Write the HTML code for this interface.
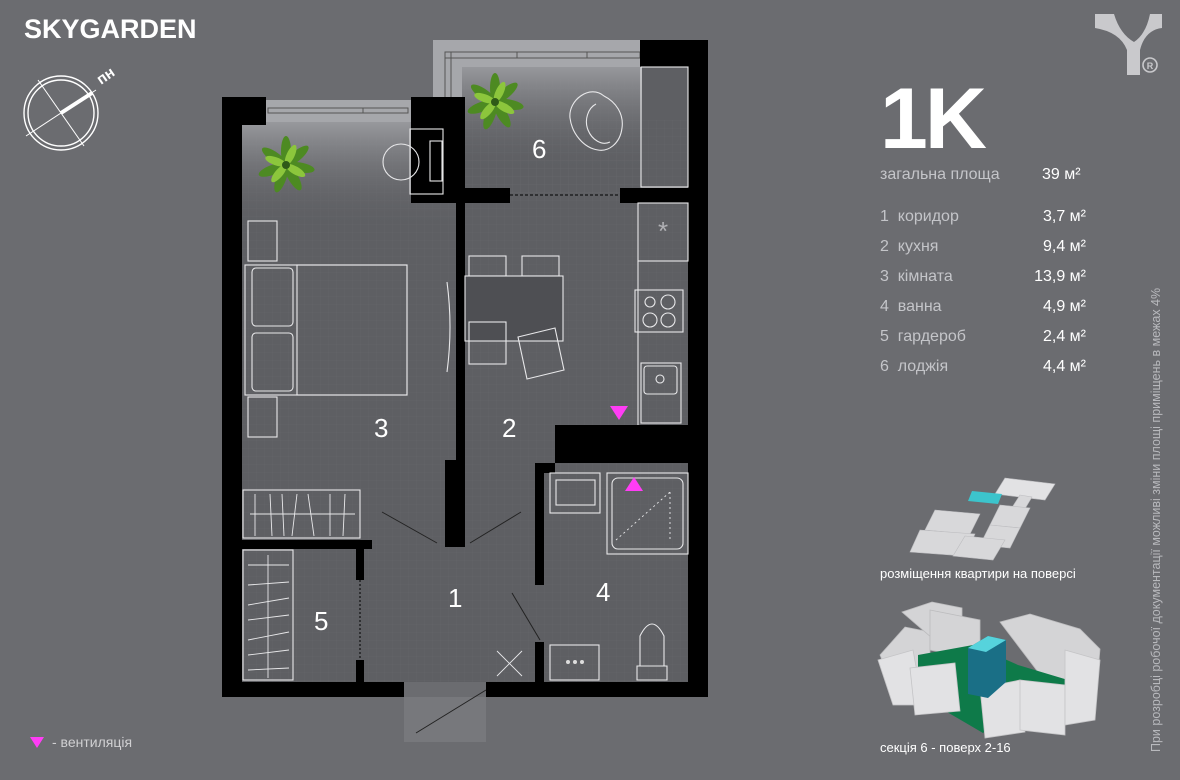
<!DOCTYPE html>
<html><head><meta charset="utf-8"><style>
html,body{margin:0;padding:0;background:#6b6c70;}
body{width:1180px;height:780px;overflow:hidden;position:relative;font-family:"Liberation Sans","DejaVu Sans",sans-serif;}
.t{position:absolute;color:#fff;white-space:nowrap;}
.lab{color:#c4c5c9;}
</style></head><body>
<svg width="1180" height="780" style="position:absolute;left:0;top:0">
<defs>
<pattern id="grid" width="8" height="8" patternUnits="userSpaceOnUse"><path d="M8 0H0V8" fill="none" stroke="#66676b" stroke-width="0.5"/></pattern>
<linearGradient id="win" x1="0" y1="0" x2="0" y2="1"><stop offset="0" stop-color="#9c9da1"/><stop offset="1" stop-color="#5f6064" stop-opacity="0"/></linearGradient>
<g id="palm">
<g fill="#4d8a22">
<ellipse cx="0" cy="-14" rx="5" ry="15"/><ellipse cx="0" cy="-14" rx="5" ry="15" transform="rotate(50)"/><ellipse cx="0" cy="-14" rx="5" ry="15" transform="rotate(100)"/><ellipse cx="0" cy="-14" rx="5" ry="15" transform="rotate(150)"/><ellipse cx="0" cy="-14" rx="5" ry="15" transform="rotate(200)"/><ellipse cx="0" cy="-14" rx="5" ry="15" transform="rotate(250)"/><ellipse cx="0" cy="-14" rx="5" ry="15" transform="rotate(305)"/>
</g>
<g fill="#8cc63c"><ellipse cx="0" cy="-11" rx="4" ry="11" transform="rotate(25)"/><ellipse cx="0" cy="-11" rx="4" ry="11" transform="rotate(120)"/><ellipse cx="0" cy="-11" rx="4" ry="11" transform="rotate(220)"/><ellipse cx="0" cy="-11" rx="4" ry="11" transform="rotate(290)"/></g>
<circle r="4" fill="#2f5a18"/>
</g>
</defs>
<!-- floor -->
<rect x="242" y="120" width="216" height="562" fill="#5e5f63"/>
<rect x="458" y="60" width="230" height="622" fill="#5e5f63"/>
<rect x="242" y="120" width="446" height="562" fill="url(#grid)"/>
<rect x="462" y="60" width="180" height="140" fill="url(#grid)"/>
<rect x="242" y="118" width="216" height="110" fill="url(#win)"/>
<rect x="462" y="62" width="180" height="110" fill="url(#win)"/>
<rect x="404" y="697" width="82" height="45" fill="#77787c"/>
<path d="M433 40H640V67H462V200H433Z" fill="#a6a7ab"/>
<rect x="266" y="100" width="146" height="22" fill="#a6a7ab"/>
<g stroke="#555" fill="none" stroke-width="1">
<rect x="445" y="52" width="195" height="6"/><rect x="445" y="52" width="6" height="140"/>
<rect x="268" y="108" width="140" height="5"/>
<line x1="517" y1="52" x2="517" y2="58"/><line x1="587" y1="52" x2="587" y2="58"/><line x1="363" y1="108" x2="363" y2="113"/>
</g>
<g fill="#000">
<rect x="222" y="97" width="44" height="28"/>
<rect x="222" y="97" width="20" height="600"/>
<rect x="411" y="97" width="51" height="106"/>
<rect x="456" y="97" width="9" height="365"/>
<rect x="445" y="460" width="20" height="87"/>
<rect x="640" y="40" width="68" height="27"/>
<rect x="688" y="40" width="20" height="657"/>
<rect x="458" y="188" width="52" height="15"/>
<rect x="620" y="188" width="88" height="15"/>
<rect x="555" y="425" width="153" height="38"/>
<rect x="535" y="463" width="20" height="10"/>
<rect x="535" y="463" width="9" height="122"/>
<rect x="535" y="642" width="9" height="50"/>
<rect x="222" y="682" width="182" height="15"/>
<rect x="486" y="682" width="222" height="15"/>
<rect x="242" y="540" width="130" height="9"/>
<rect x="356" y="548" width="8" height="32"/>
<rect x="356" y="660" width="8" height="25"/>
</g>
<line x1="510" y1="195" x2="620" y2="195" stroke="#000" stroke-dasharray="3 2"/>
<line x1="360" y1="580" x2="360" y2="660" stroke="#000" stroke-dasharray="2 2"/>
<g stroke="#222" stroke-width="1">
<line x1="382" y1="512" x2="437" y2="543"/><line x1="470" y1="543" x2="521" y2="512"/>
<line x1="512" y1="593" x2="540" y2="640"/><line x1="416" y1="733" x2="486" y2="690"/>
</g>
<g stroke="#e8e8ea" stroke-width="1.1" fill="none">
<rect x="641" y="67" width="47" height="120"/>
<path d="M604 96c-14-12-36 4-34 22 2 16 14 30 28 32 10 2 22-6 24-22 2-14-6-26-18-32z"/>
<path d="M596 104c-8 4-12 16-8 26 4 10 14 16 22 12"/>
<circle cx="401" cy="162" r="18"/>
<rect x="410" y="129" width="33" height="65"/><rect x="430" y="141" width="12" height="40"/>
<rect x="248" y="221" width="29" height="40"/><rect x="248" y="397" width="29" height="40"/>
<rect x="245" y="265" width="162" height="130"/><rect x="297" y="265" width="110" height="130"/>
<rect x="252" y="268" width="41" height="58" rx="4"/><rect x="252" y="333" width="41" height="58" rx="4"/>
<path d="M447 282q6 45 0 90"/>
<rect x="469" y="256" width="37" height="20"/><rect x="522" y="256" width="37" height="20"/>
<rect x="465" y="276" width="98" height="65" fill="#4e4f53"/>
<rect x="469" y="322" width="37" height="42"/>
<path d="M518 337l37-9 9 42-37 9z"/>
<rect x="638" y="203" width="50" height="58"/>
<text x="663" y="240" fill="#b0b0b4" stroke="none" font-size="26" text-anchor="middle">*</text>
<rect x="635" y="290" width="48" height="42"/>
<circle cx="650" cy="302" r="5"/><circle cx="668" cy="302" r="7"/><circle cx="650" cy="320" r="7"/><circle cx="668" cy="320" r="7"/>
<rect x="641" y="363" width="40" height="60"/><rect x="644" y="366" width="33" height="28" rx="3"/><circle cx="660" cy="379" r="4"/>
<line x1="638" y1="261" x2="638" y2="425"/>
<rect x="243" y="490" width="117" height="48"/>
<rect x="243" y="550" width="50" height="130"/>
<rect x="550" y="473" width="50" height="40"/><rect x="556" y="480" width="39" height="25"/>
<rect x="607" y="473" width="81" height="81"/><rect x="612" y="478" width="71" height="71" rx="6"/>
<rect x="550" y="645" width="49" height="35"/>
<path d="M637 680h30v-14h-30z M640 666v-30q12-24 24 0v30"/>
</g>
<g stroke="#e8e8ea" stroke-width="0.9">
<line x1="250" y1="514" x2="355" y2="514"/>
<line x1="255" y1="494" x2="255" y2="536"/><line x1="270" y1="494" x2="272" y2="536"/><line x1="282" y1="494" x2="284" y2="536"/><line x1="297" y1="494" x2="292" y2="536"/><line x1="308" y1="494" x2="314" y2="536"/><line x1="330" y1="494" x2="330" y2="536"/><line x1="345" y1="494" x2="343" y2="536"/>
<line x1="268" y1="555" x2="268" y2="678"/>
<line x1="248" y1="565" x2="289" y2="565"/><line x1="248" y1="585" x2="289" y2="582"/><line x1="248" y1="605" x2="289" y2="598"/><line x1="248" y1="620" x2="289" y2="615"/><line x1="248" y1="640" x2="289" y2="632"/><line x1="248" y1="655" x2="289" y2="650"/><line x1="248" y1="670" x2="289" y2="668"/>
<line x1="497" y1="651" x2="522" y2="676"/><line x1="522" y1="651" x2="497" y2="676"/>
<line x1="616" y1="540" x2="670" y2="492" stroke-dasharray="2 3"/><line x1="670" y1="492" x2="670" y2="540" stroke-dasharray="2 3"/>
</g>
<g fill="#ddd"><circle cx="568" cy="662" r="2"/><circle cx="575" cy="662" r="2"/><circle cx="582" cy="662" r="2"/></g>
<use href="#palm" x="286" y="165"/>
<use href="#palm" x="495" y="102"/>
<path d="M610 406h18l-9 14z" fill="#ff3df5"/><path d="M625 491h18l-9-14z" fill="#ff3df5"/>
<path d="M30 737h14l-7 11z" fill="#ff3df5"/>
<g stroke="#fff" fill="none" stroke-width="1.4"><circle cx="61" cy="113" r="37"/><circle cx="61" cy="113" r="33"/>
<line x1="38" y1="80" x2="84" y2="146" stroke-width="1"/><line x1="26" y1="136" x2="96" y2="90" stroke-width="1"/>
<line x1="61" y1="113" x2="92" y2="93" stroke-width="4"/></g>
<text x="101" y="85" fill="#fff" font-size="15" font-weight="bold" transform="rotate(-35 101 85)">пн</text>
<path d="M1095 14H1114Q1120 34 1134 42Q1146 34 1150 14H1162V28Q1145 30 1140 50V75H1127V50Q1120 32 1095 28Z" fill="#c9c9cc"/>
<circle cx="1150" cy="65" r="7" fill="none" stroke="#c9c9cc" stroke-width="1.6"/>
<text x="1150" y="69" fill="#c9c9cc" font-size="9" font-weight="bold" text-anchor="middle">R</text>
<!-- small plan -->
<g fill="#d8d8da" stroke="#bdbdc0" stroke-width="0.6">
<path d="M1005 478l50 6-10 16-50-6z" fill="#e2e2e4"/>
<path d="M1020 495l12 2-30 50-14-2z"/>
<path d="M1000 505l30 3-10 20-30-3z"/>
<path d="M990 525l30 3-10 20-30-3z"/>
<path d="M935 510l45 4-10 20-45-4z"/><path d="M920 530l55 4-10 22-55-4z"/><path d="M965 536l40 4-12 20-40-4z"/>
</g>
<path d="M972 491l30 3-4 10-30-3z" fill="#3cc4cc"/>
<!-- building -->
<g fill="#d4d4d6" stroke="#bcbcbe" stroke-width="0.8">
<path d="M880 655l25-28 25 5 0 40-30 30z"/>
<path d="M902 612l30-10 30 6 0 30-30 0z"/>
<path d="M930 610l50 10 0 40-50-10z"/>
<path d="M1000 622l30-8 50 15 20 20-5 60-25 5z"/>
</g>
<path d="M918 655l55-10 45 20 60 18 -10 42-55-20-30 28-65-38z" fill="#0e7a49"/>
<g fill="#e2e2e4" stroke="#c4c4c6" stroke-width="0.8">
<path d="M878 660l35-10 10 55-30 0z"/>
<path d="M910 668l45-5 5 48-45 4z"/><path d="M980 688l40-8 5 52-40 6z"/><path d="M1020 680l45 5 0 50-45-5z"/>
<path d="M1065 650l35 10-5 60-30 5z"/>
</g>
<path d="M968 648l20-12 18 4v42l-18 16-20-4z" fill="#1a6f86"/><path d="M968 648l20-12 18 4-20 12z" fill="#56d3dc"/>
</svg>
<div class="t" style="left:24px;top:14px;font-size:27px;font-weight:bold;">SKYGARDEN</div>
<div class="t" style="left:880px;top:70px;font-size:86px;font-weight:bold;letter-spacing:-3px;">1K</div>
<div class="t lab" style="left:880px;top:166px;font-size:16px;">загальна площа</div>
<div class="t" style="left:1042px;top:166px;font-size:16px;">39 м²</div>
<div style="position:absolute;left:880px;top:202px;font-size:16px;line-height:30px;color:#c4c5c9;">
<div>1&nbsp;&nbsp;коридор</div><div>2&nbsp;&nbsp;кухня</div><div>3&nbsp;&nbsp;кімната</div><div>4&nbsp;&nbsp;ванна</div><div>5&nbsp;&nbsp;гардероб</div><div>6&nbsp;&nbsp;лоджія</div></div>
<div style="position:absolute;right:94px;top:202px;font-size:16px;line-height:30px;color:#fff;text-align:right;">
<div>3,7 м²</div><div>9,4 м²</div><div>13,9 м²</div><div>4,9 м²</div><div>2,4 м²</div><div>4,4 м²</div></div>
<div class="t" style="left:880px;top:566px;font-size:13px;">розміщення квартири на поверсі</div>
<div class="t" style="left:880px;top:740px;font-size:13px;">секція 6 - поверх 2-16</div>
<div class="t" style="left:52px;top:734px;font-size:14px;color:#d0d0d2;">- вентиляція</div>
<div class="t" style="left:1149px;top:752px;font-size:12.5px;color:#b8b9bd;transform:rotate(-90deg);transform-origin:0 0;">При розробці робочої документації можливі зміни площі приміщень в межах 4%</div>
<div class="t" style="font-size:26px;left:532px;top:134px;">6</div>
<div class="t" style="font-size:26px;left:374px;top:413px;">3</div>
<div class="t" style="font-size:26px;left:502px;top:413px;">2</div>
<div class="t" style="font-size:26px;left:448px;top:583px;">1</div>
<div class="t" style="font-size:26px;left:596px;top:577px;">4</div>
<div class="t" style="font-size:26px;left:314px;top:606px;">5</div>
</body></html>
